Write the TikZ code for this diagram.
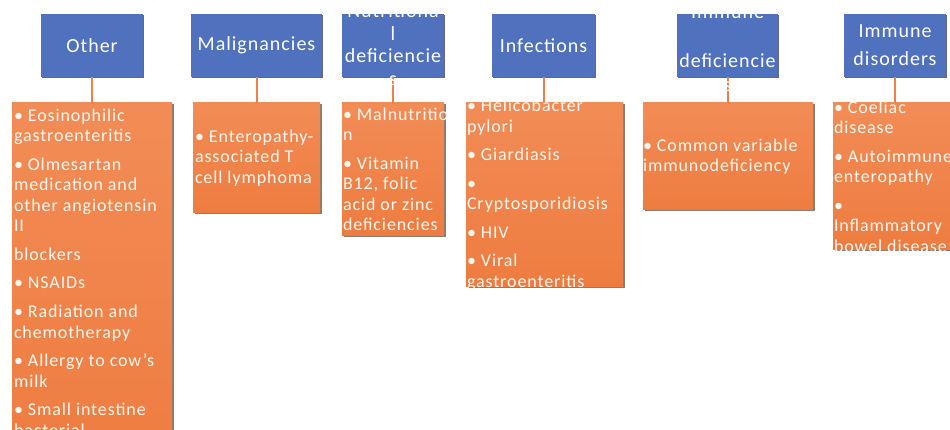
\documentclass[tikz,border=0pt]{standalone}
\usepackage{fontspec}
\usepackage{tikz}
\usetikzlibrary{shadows}
\newfontfamily\slidefont[LetterSpace=5]{Carlito}
\definecolor{headblue}{RGB}{79,113,190}
\definecolor{listtop}{RGB}{242,140,86}
\definecolor{listbottom}{RGB}{238,124,64}
\definecolor{linkorange}{RGB}{240,128,70}
\tikzset{
every picture/.style={x=1pt, y=-1pt, line width=0.8pt},
%%%%%%%%%%  Node styles
header/.style={fill=headblue, inner sep=0,
               minimum height=63pt,
               drop shadow={shadow xshift=1pt, shadow yshift=-1.5pt,
                            opacity=0.6, fill=black!80!blue}},
listbox/.style={inner sep=0,
                top color=listtop, bottom color=listbottom,
                drop shadow={shadow xshift=1.5pt, shadow yshift=-1.5pt,
                             opacity=0.6, fill=black!70!brown}},
headtext/.style={text=white, align=center, inner sep=0,
                 font=\slidefont\fontsize{20}{24.5}\selectfont},
listtext/.style={text=white!94!orange, align=left, inner sep=0,
                 font=\slidefont\fontsize{18}{20.5}\selectfont},
%%%% connector
link/.style={draw=linkorange, line width=2pt}
}

\begin{document}
\begin{tikzpicture}
\useasboundingbox (0,0) rectangle (950,430);
\clip (0,0) rectangle (950,430);
%%%%%%% header boxes
\node[header, minimum width=102pt] (other) at (92,45.5) {};
\node[header, minimum width=131pt] (malig) at (256.5,45.5) {};
\node[header, minimum width=102pt] (nutri) at (393,45.5) {};
\node[header, minimum width=103pt] (infect) at (543.5,45.5) {};
\node[header, minimum width=101pt] (immdef) at (727.5,45.5) {};
\node[header, minimum width=102pt] (immdis) at (895,45.5) {};
%%%%%%% list boxes
\node[listbox, minimum width=160pt, minimum height=367pt] (otherlist) at (92,286.5) {};
\node[listbox, minimum width=127pt, minimum height=110pt] (maliglist) at (256.5,158) {};
\node[listbox, minimum width=102pt, minimum height=133pt] (nutrilist) at (393,169.5) {};
\node[listbox, minimum width=157pt, minimum height=184pt] (infectlist) at (544.5,195) {};
\node[listbox, minimum width=170pt, minimum height=107pt] (immdeflist) at (728,156.5) {};
\node[listbox, minimum width=125pt, minimum height=147pt] (immdislist) at (895.5,176.5) {};
%%%%%%% connectors
\draw[link] (other.south) -- (other.south |- otherlist.north);
\draw[link] (malig.south) -- (malig.south |- maliglist.north);
\draw[link] (nutri.south) -- (nutri.south |- nutrilist.north);
\draw[link] (infect.south) -- (infect.south |- infectlist.north);
\draw[link] (immdef.south) -- (immdef.south |- immdeflist.north);
\draw[link] (immdis.south) -- (immdis.south |- immdislist.north);
%%%%%%% header texts
\node[headtext] (othertitle) at (other.center) {Other};
\node[headtext] (maligtitle) at (malig.center) {Malignancies};
\node[headtext, font=\slidefont\fontsize{20}{22.5}\selectfont] (nutrititle) at ([yshift=1pt]nutri.center) {Nutritiona\\l\\deficiencie\\s};
\node[headtext] (immdeftitle) at ([yshift=-3pt]immdef.center) {Immune\\[24.5pt]deficiencie\\s};
\node[headtext, font=\slidefont\fontsize{20}{28}\selectfont] (immdistitle) at (immdis.center) {Immune\\disorders};
\node[headtext] (infecttitle) at (infect.center) {Infections};
%%%%%%% list texts
\node[listtext, anchor=north west] (othertext) at ([shift={(2pt,-6pt)}]otherlist.north west)
 {• Eosinophilic\\gastroenteritis\\[8pt]
  • Olmesartan\\medication and\\other angiotensin\\II\\[8pt]
  blockers\\[8pt]
  • NSAIDs\\[8pt]
  • Radiation and\\chemotherapy\\[8pt]
  • Allergy to cow’s\\milk\\[8pt]
  • Small intestine\\bacterial\\overgrowth};
\node[listtext, anchor=west] (maligtext) at ([xshift=2pt]maliglist.west)
 {• Enteropathy-\\associated T\\cell lymphoma};
\node[listtext, anchor=west] (nutritext) at ([xshift=1pt]nutrilist.west)
 {• Malnutritio\\n\\[8pt]
  • Vitamin\\B12, folic\\acid or zinc\\deficiencies};
\node[listtext, anchor=west] (infecttext) at ([xshift=1pt]infectlist.west)
 {• Helicobacter\\pylori\\[8pt]
  • Giardiasis\\[8pt]
  •\\Cryptosporidiosis\\[8pt]
  • HIV\\[8pt]
  • Viral\\gastroenteritis};
\node[listtext, anchor=west] (immdeftext) at ([xshift=0pt]immdeflist.west)
 {• Common variable\\immunodeficiency};
\node[listtext, anchor=west] (immdistext) at ([xshift=1pt]immdislist.west)
 {• Coeliac\\disease\\[8pt]
  • Autoimmune\\enteropathy\\[8pt]
  •\\Inflammatory\\bowel disease};
\end{tikzpicture}
\end{document}
